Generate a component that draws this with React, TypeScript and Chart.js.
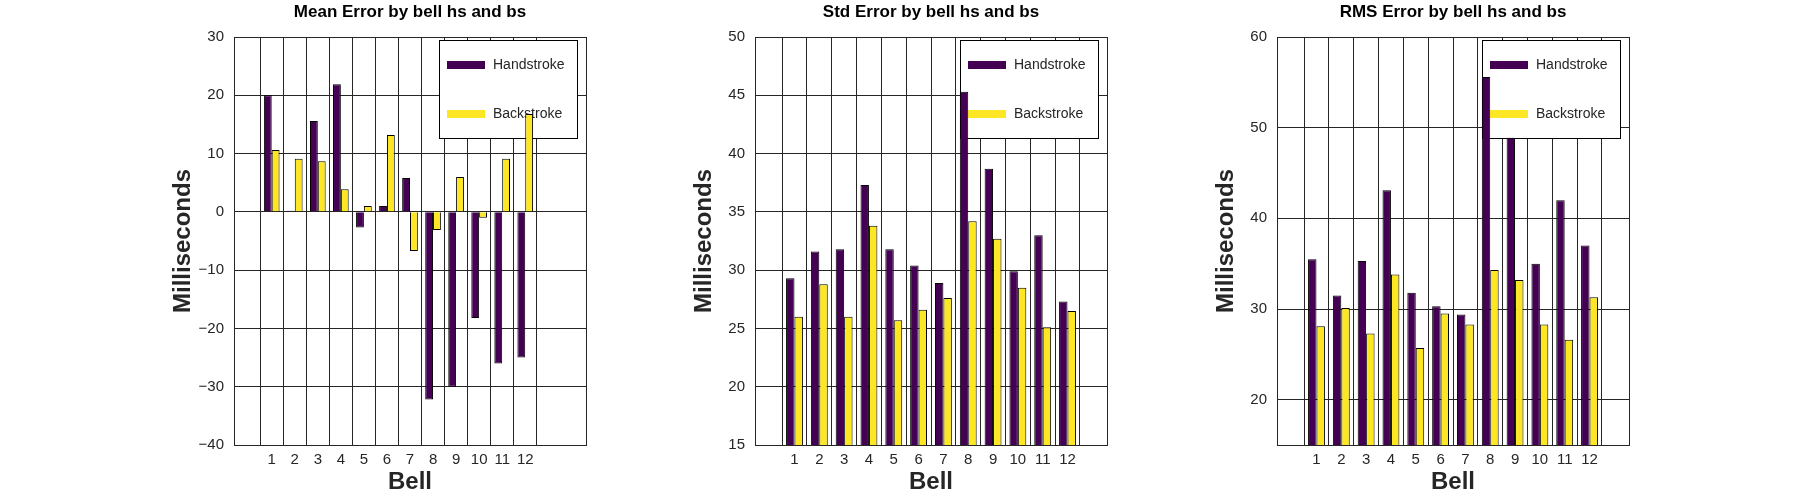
import React, { useEffect, useRef } from 'react'
import { Chart, registerables } from 'chart.js'

Chart.register(...registerables)

const FONT = "'Liberation Sans', Arial, Helvetica, sans-serif"
Chart.defaults.font.family = FONT

const bells = [1, 2, 3, 4, 5, 6, 7, 8, 9, 10, 11, 12]
const seriesNames = ['Handstroke', 'Backstroke']
const seriesColors = ['#440154', '#fde725']

// Mean error (ms)
const meanHs = [20.0, 0.2, 15.6, 21.9, -2.7, 1.0, 5.8, -32.2, -30.0, -18.2, -26.0, -25.0]
const meanBs = [10.6, 9.1, 8.7, 3.9, 1.0, 13.2, -6.7, -3.1, 6.0, -1.0, 9.1, 16.8]
const meanTicks = [-40, -30, -20, -10, 0, 10, 20, 30]

// Std error (ms)
const stdHs = [29.3, 31.6, 31.8, 37.3, 31.8, 30.4, 28.9, 45.3, 38.7, 29.9, 33.0, 27.3]
const stdBs = [26.0, 28.8, 26.0, 33.8, 25.7, 26.6, 27.6, 34.2, 32.7, 28.5, 25.1, 26.5]
const stdTicks = [15, 20, 25, 30, 35, 40, 45, 50]

// RMS error (ms)
const rmsHs = [35.5, 31.5, 35.3, 43.1, 31.8, 30.3, 29.4, 55.6, 48.9, 35.0, 42.0, 37.0]
const rmsBs = [28.1, 30.1, 27.3, 33.8, 25.7, 29.5, 28.3, 34.3, 33.2, 28.3, 26.6, 31.3]
const rmsTicks = [20, 30, 40, 50, 60]

interface PanelProps {
  title: string
  hs: number[]
  bs: number[]
  yMin: number
  yMax: number
  yTicks: number[]
  xMax: number
  left: number
}

const fmt = (v: number) => (v < 0 ? '\u2212' + Math.abs(v) : String(v))

// frame round the axes plus the boxed legend, drawn under the bars
const boxLegend = {
  id: 'boxLegend',
  beforeDatasetsDraw(chart: any) {
    const { ctx, chartArea: a } = chart
    ctx.save()
    ctx.lineWidth = 1
    ctx.strokeStyle = '#262626'
    ctx.strokeRect(
      Math.round(a.left) + 0.5,
      Math.round(a.top) + 0.5,
      Math.round(a.right - a.left),
      Math.round(a.bottom - a.top)
    )
    const x = Math.round(a.right) - 147
    const y = Math.round(a.top) + 3
    ctx.fillStyle = '#ffffff'
    ctx.fillRect(x, y, 138, 98)
    ctx.strokeStyle = '#000000'
    ctx.strokeRect(x + 0.5, y + 0.5, 138, 98)
    ctx.font = '14px ' + FONT
    ctx.textBaseline = 'middle'
    ctx.textAlign = 'left'
    chart.data.datasets.forEach((ds: any, i: number) => {
      const cy = y + 25 + i * 49
      ctx.fillStyle = ds.backgroundColor
      ctx.fillRect(x + 8, cy - 4, 38, 8)
      ctx.fillStyle = '#262626'
      ctx.fillText(ds.label, x + 54, cy)
    })
    ctx.restore()
  }
}

const Panel: React.FC<PanelProps> = ({ title, hs, bs, yMin, yMax, yTicks, xMax, left }) => {
  const canvasRef = useRef<HTMLCanvasElement | null>(null)

  useEffect(() => {
    if (!canvasRef.current) return
    const chart = new Chart(canvasRef.current, {
      type: 'bar',
      data: {
        datasets: [hs, bs].map((vals, s) => ({
          label: seriesNames[s],
          data: vals.map((v, i) => ({ x: bells[i], y: v })),
          backgroundColor: seriesColors[s],
          borderColor: '#000000',
          borderWidth: 1,
          categoryPercentage: 0.68,
          barPercentage: 1.0
        }))
      },
      options: {
        responsive: false,
        animation: false,
        layout: { padding: { left: 169, right: 14, top: 0, bottom: 0 } },
        plugins: {
          legend: { display: false },
          tooltip: { enabled: false },
          title: {
            display: true,
            text: title,
            fullSize: false,
            color: '#000000',
            font: { size: 17, weight: 'bold' },
            padding: { top: 1.8, bottom: 14.8 }
          }
        },
        scales: {
          x: {
            type: 'linear',
            min: 0,
            max: xMax,
            afterBuildTicks: (scale: any) => {
              scale.ticks = bells.map((v) => ({ value: v }))
            },
            afterFit: (scale: any) => {
              scale.height = 55
            },
            ticks: {
              color: '#262626',
              font: { size: 15 },
              padding: 6,
              maxRotation: 0,
              autoSkip: false,
              callback: (v: any) => String(v)
            },
            grid: { color: '#262626', drawTicks: false, lineWidth: 1 },
            border: { display: true, color: '#262626' },
            title: {
              display: true,
              text: 'Bell',
              color: '#262626',
              font: { size: 24, weight: 'bold' },
              padding: { top: 0, bottom: 3.6 }
            }
          },
          y: {
            type: 'linear',
            min: yMin,
            max: yMax,
            afterBuildTicks: (scale: any) => {
              scale.ticks = yTicks.map((v) => ({ value: v }))
            },
            afterFit: (scale: any) => {
              scale.width = 65
            },
            ticks: {
              color: '#262626',
              font: { size: 15 },
              padding: 10,
              callback: (v: any) => fmt(Number(v))
            },
            grid: { color: '#262626', drawTicks: false, lineWidth: 1 },
            border: { display: true, color: '#262626' },
            title: {
              display: true,
              text: 'Milliseconds',
              color: '#262626',
              font: { size: 24, weight: 'bold' },
              padding: { top: 0, bottom: 0 }
            }
          }
        }
      } as any,
      plugins: [boxLegend]
    })

    return () => {
      chart.destroy()
    }
  }, [])

  return (
    <canvas
      ref={canvasRef}
      width={600}
      height={500}
      style={{ position: 'absolute', left, top: 0, width: 600, height: 500 }}
    />
  )
}

const App: React.FC = () => {
  return (
    <div
      style={{
        position: 'absolute',
        left: 0,
        top: 0,
        width: 1800,
        height: 500,
        background: '#ffffff',
        overflow: 'hidden'
      }}
    >
      <Panel title="Mean Error by bell hs and bs" hs={meanHs} bs={meanBs} yMin={-40} yMax={30} yTicks={meanTicks} xMax={14} left={0} />
      <Panel title="Std Error by bell hs and bs" hs={stdHs} bs={stdBs} yMin={15} yMax={50} yTicks={stdTicks} xMax={13} left={521} />
      <Panel title="RMS Error by bell hs and bs" hs={rmsHs} bs={rmsBs} yMin={15} yMax={60} yTicks={rmsTicks} xMax={13} left={1043} />
    </div>
  )
}

export default App
